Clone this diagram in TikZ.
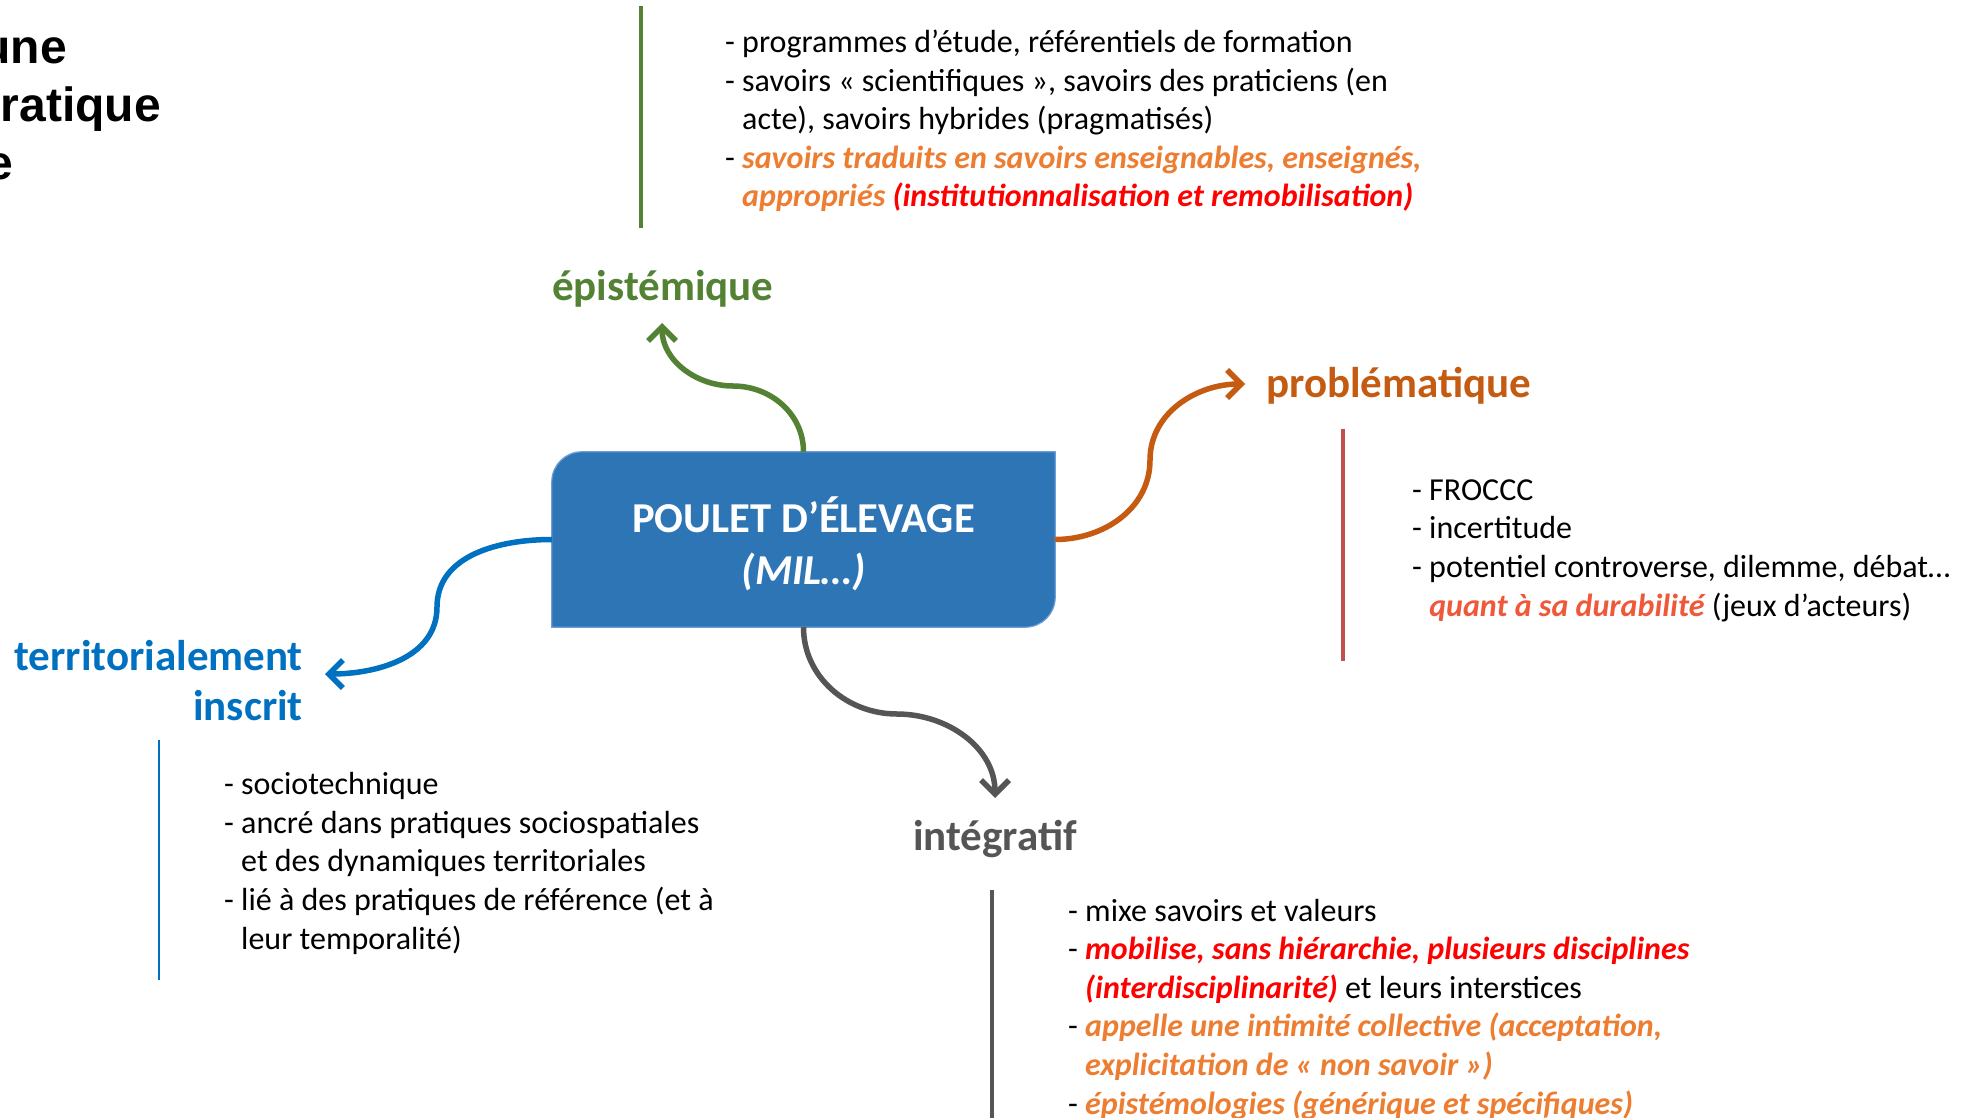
\documentclass[tikz,border=0pt]{standalone}
\usepackage{fontspec}
\setmainfont{Carlito}
\newfontfamily\titlefont{Liberation Sans}
\usetikzlibrary{arrows.meta,backgrounds}

\definecolor{boxblue}{HTML}{2E75B6}
\definecolor{boxedge}{HTML}{6A9FD8}
\definecolor{epigreen}{HTML}{548235}
\definecolor{proborange}{HTML}{C55A11}
\definecolor{terrblue}{HTML}{0070C0}
\definecolor{integgray}{HTML}{555555}
\definecolor{barred}{HTML}{C0504D}
\definecolor{emorange}{HTML}{ED7D31}
\definecolor{emred}{HTML}{FF0000}
\definecolor{emdurab}{HTML}{F0583A}

\newcommand{\orem}[1]{{\color{emorange}\bfseries\itshape #1}}
\newcommand{\redem}[1]{{\color{emred}\bfseries\itshape #1}}
\newcommand{\durem}[1]{{\color{emdurab}\bfseries\itshape #1}}
\newcommand{\ind}{\phantom{- }}

\tikzset{
    listtext/.style={align=left, anchor=base west, inner sep=0pt,
        font=\fontsize{32}{38.6}\selectfont},
    heading/.style={inner sep=0pt, font=\fontsize{43}{50}\selectfont\bfseries},
    conn/.style={line width=5.5pt, -{Straight Barb[length=14pt,width=28pt]}},
    barline/.style={line width=4pt},
    titletext/.style={anchor=base east, inner sep=0pt,
        font=\titlefont\fontsize{48}{58}\selectfont\bfseries},
    centerbox/.style={minimum width=503pt, minimum height=175pt, inner sep=0pt},
    boxlabel/.style={inner sep=0pt, text=white, align=center,
        font=\fontsize{42.6}{52}\selectfont\bfseries}
}

\begin{document}
\begin{tikzpicture}[x=1pt,y=1pt]
    \useasboundingbox (0,0) rectangle (1977,-1118);
    \clip (0,0) rectangle (1977,-1118);

    % Title (cut at the left edge)
    \node[titletext] (t1) at (67,-64) {une};
    \node[titletext] (t2) at (161,-122) {ratique};
    \node[titletext] (t3) at (13,-180) {e};

    % Central box
    \node[centerbox] (poulet) at (803.5,-539.5) {};
    \node[boxlabel] (pouletlbl) at ([yshift=-4pt]poulet.center) {POULET D’ÉLEVAGE\\\textit{(MIL…)}};
    \begin{scope}[on background layer]
        \fill[white] (0,0) rectangle (1977,-1118);
        \filldraw[fill=boxblue, draw=boxedge, line width=1.2pt]
            (poulet.south west) -- ([yshift=-30pt]poulet.north west)
            .. controls ([yshift=-13.4pt]poulet.north west) and ([xshift=13.4pt]poulet.north west) .. ([xshift=30pt]poulet.north west)
            -- (poulet.north east) -- ([yshift=30pt]poulet.south east)
            .. controls ([yshift=13.4pt]poulet.south east) and ([xshift=-13.4pt]poulet.south east) .. ([xshift=-30pt]poulet.south east)
            -- cycle;
    \end{scope}

    % Headings
    \node[heading, text=epigreen, anchor=base west] (epi) at (552,-300) {épistémique};
    \node[heading, text=proborange, anchor=base west] (prob) at (1266,-397) {problématique};
    \node[heading, text=terrblue, anchor=base east, align=right] (terr) at (303,-720) {territorialement\\inscrit};
    \node[heading, text=integgray, anchor=base west] (integ) at (913,-850) {intégratif};

    % Arrows
    \coordinate (epimid) at (733,-386);
    \coordinate (epitip) at (662,-323);
    \coordinate (probmid) at (1150,-460);
    \coordinate (probtip) at (1245,-384);
    \coordinate (terrmid) at (437,-607);
    \coordinate (terrtip) at (325,-674);
    \coordinate (integmid) at (897,-714);
    \coordinate (integtip) at (995,-798);
    \draw[conn, epigreen] (poulet.north) to[out=90,in=0] (epimid) to[out=180,in=-90] (epitip);
    \draw[conn, proborange] (poulet.east) to[out=0,in=-90] (probmid) to[out=90,in=180] (probtip);
    \draw[conn, terrblue] (poulet.west) to[out=180,in=90] (terrmid) to[out=-90,in=0] (terrtip);
    \draw[conn, integgray] (poulet.south) to[out=-90,in=180] (integmid) to[out=0,in=90] (integtip);

    % Side bars
    \draw[barline, epigreen] (641,-6) -- (641,-228);
    \draw[barline, barred] (1343,-429) -- (1343,-661);
    \draw[line width=2.5pt, terrblue] (159,-740) -- (159,-980);
    \draw[barline, integgray] (992,-890) -- (992,-1120);

    % Lists (base = last line)
    \node[listtext] (epilist) at (725,-207) {%
        - programmes d’étude, référentiels de formation\\
        - savoirs « scientifiques », savoirs des praticiens (en\\
        \ind acte), savoirs hybrides (pragmatisés)\\
        - \orem{savoirs traduits en savoirs enseignables, enseignés,}\\
        \ind\orem{appropriés} \redem{(institutionnalisation et remobilisation)}};
    \node[listtext] (problist) at (1412,-616) {%
        - FROCCC\\
        - incertitude\\
        - potentiel controverse, dilemme, débat…\\
        \ind\durem{quant à sa durabilité} (jeux d’acteurs)};
    \node[listtext] (terrlist) at (224,-949) {%
        - sociotechnique\\
        - ancré dans pratiques sociospatiales\\
        \ind et des dynamiques territoriales\\
        - lié à des pratiques de référence (et à\\
        \ind leur temporalité)};
    \node[listtext] (integlist) at (1068,-1114) {%
        - mixe savoirs et valeurs\\
        - \redem{mobilise, sans hiérarchie, plusieurs disciplines}\\
        \ind\redem{(interdisciplinarité)} et leurs interstices\\
        - \orem{appelle une intimité collective (acceptation,}\\
        \ind\orem{explicitation de « non savoir »)}\\
        - \orem{épistémologies (générique et spécifiques)}};
\end{tikzpicture}
\end{document}
